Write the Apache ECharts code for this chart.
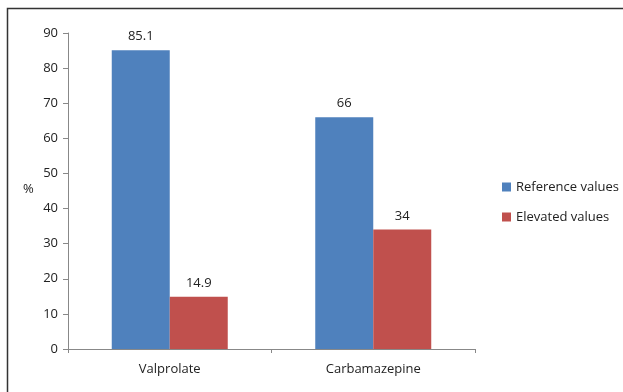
<!DOCTYPE html>
<html>
<head>
<meta charset="utf-8">
<style>
  html, body { margin: 0; padding: 0; background: #fff; }
  #chart { width: 623px; height: 392px; }
</style>
<script src="https://cdn.jsdelivr.net/npm/echarts@6/dist/echarts.min.js"></script>
</head>
<body>
<div id="chart"></div>
<script>
// Drug categories and percentages per group
const categories = ['Valprolate', 'Carbamazepine'];
const referenceValues = [85.1, 66];
const elevatedValues = [14.9, 34];
const seriesNames = ['Reference values', 'Elevated values'];

const FONT = 'Open Sans';
const chart = echarts.init(document.getElementById('chart'), null, { renderer: 'canvas' });

const labelStyle = {
  show: true,
  position: 'top',
  distance: 7,
  color: '#222',
  fontFamily: FONT,
  fontSize: 13
};

chart.setOption({
  animation: false,
  backgroundColor: '#fff',
  graphic: [{
    type: 'rect',
    shape: { x: 7.5, y: 8.5, width: 700, height: 500 },
    style: { fill: 'none', stroke: '#333', lineWidth: 1.5 },
    silent: true
  }, {
    type: 'text',
    left: 23,
    top: 183,
    style: { text: '%', font: '13px "Open Sans"', fill: '#222' }
  }],
  grid: { left: 68, right: 148, top: 33, bottom: 43 },
  legend: {
    orient: 'vertical',
    left: 502,
    top: 178,
    padding: 0,
    itemWidth: 9,
    itemHeight: 9,
    itemGap: 12,
    icon: 'rect',
    textStyle: { fontFamily: FONT, fontSize: 13, color: '#222', lineHeight: 18 },
    data: seriesNames
  },
  xAxis: {
    type: 'category',
    data: categories,
    axisLine: { lineStyle: { color: '#888', width: 1 } },
    axisTick: { show: true, length: 4, lineStyle: { color: '#888' } },
    axisLabel: { fontFamily: FONT, fontSize: 13, color: '#222', margin: 14 }
  },
  yAxis: {
    type: 'value',
    min: 0,
    max: 90,
    interval: 10,
    splitLine: { show: false },
    axisLine: { show: true, lineStyle: { color: '#888', width: 1 } },
    axisTick: { show: true, length: 5, lineStyle: { color: '#888' } },
    axisLabel: { fontFamily: FONT, fontSize: 13, color: '#222', margin: 10 }
  },
  series: [{
    name: seriesNames[0],
    type: 'bar',
    data: referenceValues,
    barGap: '0%',
    barCategoryGap: '43%',
    itemStyle: { color: '#4f81bd' },
    label: labelStyle
  }, {
    name: seriesNames[1],
    type: 'bar',
    data: elevatedValues,
    itemStyle: { color: '#c0504d' },
    label: labelStyle
  }]
});
</script>
</body>
</html>
